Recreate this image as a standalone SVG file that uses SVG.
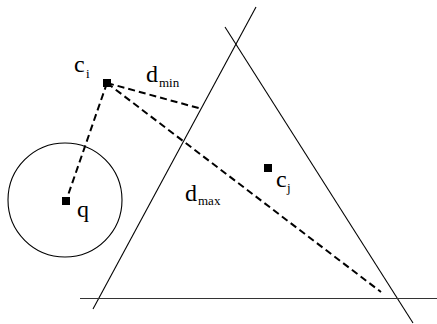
<svg xmlns="http://www.w3.org/2000/svg" width="437" height="324" viewBox="0 0 437 324">
<style>
.ln{stroke:#000;stroke-width:1.1;fill:none}
.ds{stroke:#000;stroke-width:2;fill:none;stroke-dasharray:7,4}
.pt{fill:#000}
text{font-family:"Liberation Serif","Times New Roman",serif;fill:#000}
.b{font-size:24px}
.s{font-size:13px}
</style>
<rect width="437" height="324" fill="#fff"/>
<g id="lines">
<line class="ln" x1="93" y1="309" x2="256" y2="7"/>
<line class="ln" x1="225" y1="27" x2="413" y2="323"/>
<line class="ln" x1="80" y1="298.5" x2="437" y2="298.5" style="stroke:#333"/>
<circle class="ln" cx="65" cy="200" r="57"/>
</g>
<g id="connectors">
<line class="ds" x1="107" y1="83" x2="66" y2="201"/>
<line class="ds" x1="107" y1="83" x2="202" y2="109"/>
<line class="ds" x1="107" y1="83" x2="381" y2="292"/>
</g>
<g id="ci">
<rect class="pt" x="103" y="79" width="8" height="8"/>
<text class="b" x="74" y="72">c</text><text class="s" x="86" y="78">i</text>
</g>
<g id="q">
<rect class="pt" x="62" y="197" width="8" height="8"/>
<text class="b" x="77" y="217">q</text>
</g>
<g id="cj">
<rect class="pt" x="264" y="164" width="8" height="8"/>
<text class="b" x="276" y="187">c</text><text class="s" x="287" y="192">j</text>
</g>
<g id="dmin">
<text class="b" x="146" y="82">d</text><text class="s" x="159" y="87">min</text>
</g>
<g id="dmax">
<text class="b" x="185" y="201">d</text><text class="s" x="198" y="205">max</text>
</g>
</svg>
